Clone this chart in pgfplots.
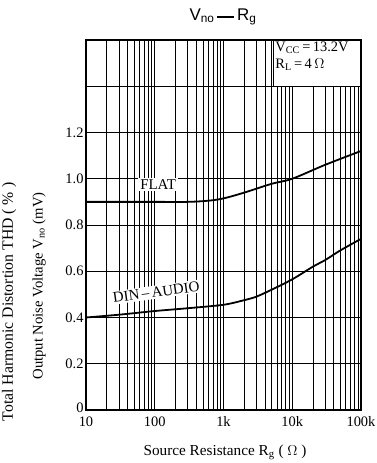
\documentclass[border=0pt]{standalone}
\usepackage{pgfplots}
\pgfplotsset{compat=1.18}
\usepackage{fontspec}
\setmainfont{Liberation Serif}
\newfontfamily\titlefont{Liberation Sans}
\begin{document}
\begin{tikzpicture}
\useasboundingbox (-86bp,-53bp) rectangle (291bp,410bp);
\begin{axis}[
  scale only axis,
  width=275bp, height=370bp,
  xmode=log, log basis x=10,
  xmin=10, xmax=100000,
  ymin=0, ymax=1.6,
  xtick={10,100,1000,10000,100000},
  xticklabels={10,100,1k,10k,100k},
  minor xtick={20,30,40,50,60,70,80,90,200,300,400,500,600,700,800,900,2000,3000,4000,5000,6000,7000,8000,9000,20000,30000,40000,50000,60000,70000,80000,90000},
  ytick={0,0.2,0.4,0.6,0.8,1.0,1.2,1.4},
  yticklabels={\raisebox{5pt}{0},0.2,0.4,0.6,0.8,1.0,1.2,},
  major tick length=0pt, minor tick length=0pt,
  grid=both,
  major grid style={black, line width=0.7pt},
  minor grid style={black, line width=0.6pt},
  axis line style={line width=2.2pt},
  tick label style={font=\fontsize{14.5}{16}\selectfont},
  xticklabel style={yshift=-3pt},
  yticklabel style={xshift=1pt},
  clip=true,
]
\addplot[black, line width=1.8pt, smooth] coordinates {
 (10,0.9) (100,0.9) (300,0.9) (600,0.905) (1000,0.915) (2000,0.94)
 (5000,0.978) (10000,1.0) (30000,1.06) (100000,1.12)};
\addplot[black, line width=1.8pt, smooth] coordinates {
 (10,0.40) (30,0.412) (100,0.428) (300,0.44) (1000,0.455) (2000,0.475)
 (3000,0.49) (5000,0.52) (10000,0.565) (20000,0.62) (30000,0.648)
 (50000,0.69) (100000,0.74)};
\node[fill=white, inner sep=2pt, font=\fontsize{15}{17}\selectfont] at (axis cs:112,0.975) {FLAT};
\node[fill=white, inner sep=1.5pt, rotate=8, font=\fontsize{15}{17}\selectfont] at (axis cs:105,0.51) {DIN\,--\,AUDIO};
\fill[white] (axis cs:5250,1.4) rectangle (rel axis cs:1,1);
\draw[black, line width=0.8pt] (axis cs:5250,1.4) -- (axis cs:5250,1.6);
\draw[black, line width=0.8pt] (axis cs:5250,1.4) -- (axis cs:100000,1.4);
\node[anchor=north west, align=left, inner sep=2pt, font=\fontsize{14.5}{16.5}\selectfont] at (axis cs:5300,1.6)
 {V\textsubscript{CC}\,=\,13.2V\\R\textsubscript{L}\,=\,4\,$\Omega$};
\draw[line width=2.2pt] (rel axis cs:0,0) rectangle (rel axis cs:1,1);
\end{axis}
\node[rotate=90, font=\fontsize{15.8}{17}\selectfont] at (-77bp,108bp) {Total Harmonic Distortion THD ( \% )};
\node[rotate=90, font=\fontsize{14.7}{16}\selectfont] at (-47bp,124bp) {Output Noise Voltage V\textsubscript{no} (mV)};
\node[font=\fontsize{15.3}{17}\selectfont] at (139bp,-42bp) {Source Resistance R\textsubscript{g} ( $\Omega$ )};
\node[font=\titlefont\fontsize{17}{19}\selectfont] at (137bp,393bp) {V\textsubscript{no}\,\rule[0.3ex]{1em}{1.3pt}\,R\textsubscript{g}};
\end{tikzpicture}
\end{document}
